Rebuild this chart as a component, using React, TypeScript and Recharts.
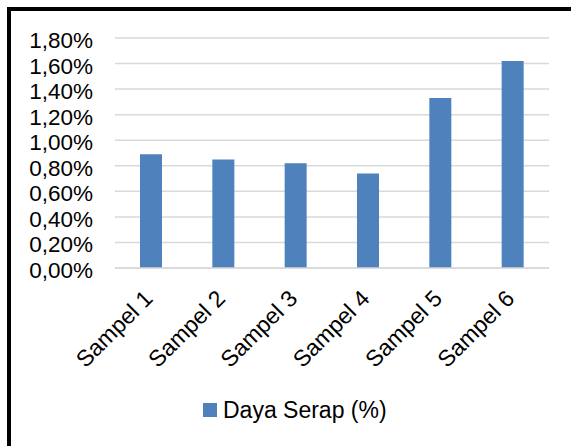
import { BarChart, Bar, XAxis, YAxis, CartesianGrid, Legend } from 'recharts';

const samples = ['Sampel 1', 'Sampel 2', 'Sampel 3', 'Sampel 4', 'Sampel 5', 'Sampel 6'];
const dayaSerap = [0.89, 0.85, 0.82, 0.74, 1.33, 1.62];
const yTicks = [0, 0.2, 0.4, 0.6, 0.8, 1.0, 1.2, 1.4, 1.6, 1.8];

const data = samples.map((name, i) => ({ name, value: dayaSerap[i] }));

const FONT = '"Liberation Sans", Arial, sans-serif';
const BLUE = '#4F81BD';

const fmt = (v: number) => v.toFixed(2).replace('.', ',') + '%';

function SampleTick({ x, y, payload }: any) {
  const ax = x + 3;
  const ay = y + 32;
  return (
    <text
      x={ax}
      y={ay}
      transform={`rotate(-45, ${ax}, ${ay})`}
      textAnchor="end"
      fontSize={23}
      fontFamily={FONT}
      fill="#000"
    >
      {payload.value}
    </text>
  );
}

function LegendBox() {
  return (
    <div
      style={{
        height: 40,
        display: 'flex',
        alignItems: 'center',
        paddingLeft: 203,
        fontFamily: FONT,
        fontSize: 23,
        color: '#000',
      }}
    >
      <span style={{ width: 14, height: 14, background: BLUE, display: 'inline-block', marginRight: 6 }} />
      <span>Daya Serap (%)</span>
    </div>
  );
}

export default function App() {
  return (
    <div style={{ position: 'fixed', left: 0, top: 0, width: 571, height: 446, overflow: 'hidden', background: '#fff' }}>
      <div
        style={{
          position: 'absolute',
          left: 7,
          top: 7,
          width: 600,
          height: 500,
          border: '4px solid #000',
        }}
      />
      <BarChart
        width={571}
        height={446}
        data={data}
        margin={{ top: 38, right: 22, bottom: 16, left: 0 }}
        style={{ position: 'absolute', left: 0, top: 0 }}
      >
        <CartesianGrid vertical={false} stroke="#d9d9d9" strokeWidth={1.5} />
        <XAxis
          dataKey="name"
          height={122}
          tickSize={0}
          tickMargin={0}
          tickLine={false}
          axisLine={{ stroke: '#d9d9d9', strokeWidth: 1.5 }}
          interval={0}
          tick={<SampleTick />}
        />
        <YAxis
          width={115}
          domain={[0, 1.8]}
          ticks={yTicks}
          tickFormatter={fmt}
          axisLine={false}
          tickLine={false}
          tickSize={0}
          tickMargin={22}
          tick={{ fontSize: 22.5, fontFamily: FONT, fill: '#000', dy: 2 }}
          interval={0}
        />
        <Legend verticalAlign="bottom" content={<LegendBox />} />
        <Bar dataKey="value" name="Daya Serap (%)" fill={BLUE} barSize={22} isAnimationActive={false} />
      </BarChart>
    </div>
  );
}
